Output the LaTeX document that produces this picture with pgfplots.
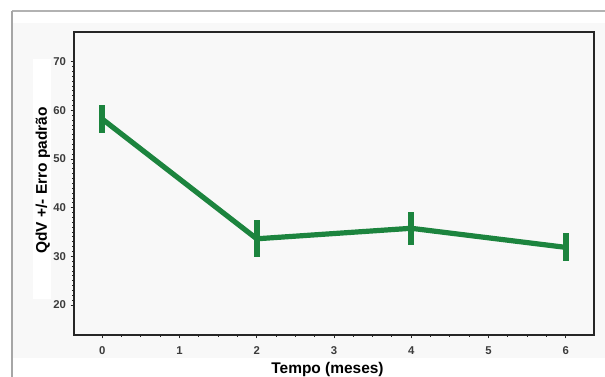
\documentclass[border=0pt]{standalone}
\usepackage{fontspec}
\setmainfont{Liberation Sans}
\usepackage{pgfplots}
\pgfplotsset{compat=1.18}
\definecolor{qgreen}{RGB}{28,132,62}
\definecolor{panel}{RGB}{248,248,248}
\definecolor{ticktext}{RGB}{60,60,60}
\begin{document}
\begin{tikzpicture}[x=1pt,y=1pt]
\useasboundingbox (0,0) rectangle (453.75,282.75);
\fill[white] (0,0) rectangle (453.75,282.75);
\fill[panel] (9,14.25) rectangle (453.75,265.5);
\draw[gray!60, line width=1.1pt] (9,274.5) -- (453.75,274.5);
\draw[gray!70, line width=1.1pt] (9,0) -- (9,274.5);
\fill[white] (24.5,58.5) rectangle (38.25,238.5);
\begin{axis}[
  at={(55.5pt,31.5pt)}, anchor=south west,
  scale only axis, width=390pt, height=227.25pt,
  xmin=-0.366, xmax=6.367, ymin=13.83, ymax=76.1,
  axis background/.style={fill=panel},
  axis line style={black!85, line width=0.9pt},
  xtick={0,1,2,3,4,5,6}, ytick={20,30,40,50,60,70},
  minor x tick num=3, minor y tick num=9,
  tick pos=left, tick align=outside,
  major tick length=2.5pt, minor tick length=1.5pt,
  tick style={black!85, line width=0.6pt},
  /pgf/number format/assume math mode=true,
  ticklabel style={font=\fontsize{8.5}{10}\selectfont\bfseries, text=ticktext},
  xticklabel style={yshift=-2.5pt},
  xlabel={Tempo (meses)}, ylabel={QdV +/- Erro padrão},
  label style={font=\fontsize{11.6}{13}\selectfont\bfseries},
  xlabel style={at={(axis description cs:0.4875,0)}, anchor=center, yshift=-26.25pt},
  ylabel style={at={(axis description cs:0,0.51)}, anchor=center, yshift=23.25pt},
]
\addplot[qgreen, line width=3.9pt, line join=round, no marks,
  error bars/.cd, y dir=both, y explicit, error mark=none,
  error bar style={line width=4.5pt, qgreen}]
  coordinates {
  (0,58.2) +- (0,2.9)
  (2,33.6) +- (0,3.76)
  (4,35.76) +- (0,3.4)
  (6,31.84) +- (0,2.9)
  };
\end{axis}
\end{tikzpicture}
\end{document}
